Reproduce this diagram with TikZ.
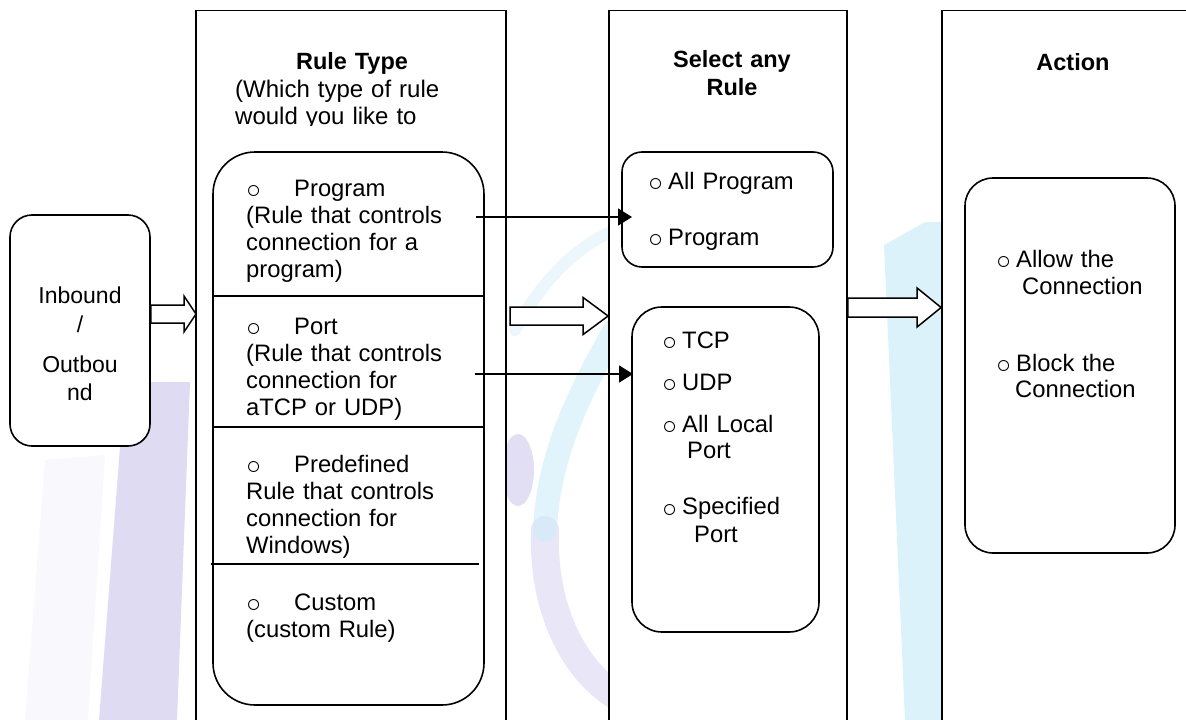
\documentclass[tikz,border=0pt]{standalone}
\usepackage{fontspec}
\setmainfont{Liberation Sans}
\usetikzlibrary{arrows.meta,calc}
\definecolor{wml}{RGB}{214,210,240}
\definecolor{wmc}{RGB}{205,236,250}
\newcommand{\bul}[1]{\makebox[#1][l]{\raisebox{-2.5pt}{\fontsize{25}{25}\selectfont ○}}}
\newcommand{\blockarr}[5]{%
  \draw[barrow] let \p1=(#1), \p2=(#2) in
    (\x1,\y1+#3) -- (\x2-#5,\y1+#3) -- (\x2-#5,\y1+#4) -- (\x2,\y1)
    -- (\x2-#5,\y1-#4) -- (\x2-#5,\y1-#3) -- (\x1,\y1-#3) -- cycle;}
\begin{document}
\begin{tikzpicture}[x=1pt,y=-1pt,
  col/.style={draw, line width=1.8pt, fill=white, inner sep=0pt},
  rbox/.style={draw, line width=1.6pt, fill=white, inner sep=0pt},
  ttl/.style={font=\bfseries\fontsize{23.5}{28}\selectfont, anchor=base, inner sep=0pt, align=center, text width=220pt},
  txa/.style={font=\fontsize{23.8}{27}\selectfont, anchor=base west, inner sep=0pt, align=left, text width=240pt},
  txb/.style={font=\fontsize{23.8}{26.5}\selectfont, anchor=base west, inner sep=0pt, align=left, text width=180pt},
  barrow/.style={draw, line width=1.5pt, fill=white, line join=miter},
  larrow/.style={line width=1.6pt, -{Triangle[length=14pt,width=17pt]}},
  divider/.style={line width=1.6pt},
  wm/.style={line cap=round},
]
\useasboundingbox (0,0) rectangle (1186,720);
\clip (0,0) rectangle (1186,720);

% faint watermark
\fill[wml, opacity=0.8] (125,382) -- (190,382) -- (177,720) -- (99,720) -- cycle;
\fill[wml, opacity=0.15] (45,460) -- (105,455) -- (88,720) -- (25,720) -- cycle;
\draw[wm, wml, line width=28pt, opacity=0.55] (545,530) .. controls (542,610) and (575,670) .. (615,695);
\draw[wm, wmc, line width=24pt, opacity=0.6] (615,330) .. controls (575,400) and (548,460) .. (545,530);
\draw[wm, wmc, line width=12pt, opacity=0.4] (515,330) .. controls (545,275) and (580,245) .. (615,230);
\fill[wml, opacity=0.7] (518,470) ellipse [x radius=16, y radius=36];
\fill[wmc, opacity=0.7] (884,245) -- (925,222) -- (942,222) -- (942,720) -- (905,720) -- cycle;

% columns
\node[col, minimum width=310pt, minimum height=730pt] (colA) at (351,375.5) {};
\node[col, minimum width=238pt, minimum height=730pt] (colB) at (728,375.5) {};
\node[col, minimum width=270pt, minimum height=730pt] (colC) at (1077,375.5) {};

% inner boxes
\node[rbox, rounded corners=22pt, minimum width=140pt, minimum height=231pt] (inb) at (80,330.5) {};
\node[rbox, rounded corners=42pt, minimum width=271pt, minimum height=553pt] (rt) at (348.5,428.5) {};
\node[rbox, rounded corners=20pt, minimum width=211pt, minimum height=115pt] (prog) at (727.5,209.5) {};
\node[rbox, rounded corners=30pt, minimum width=187pt, minimum height=325pt] (port) at (725.5,469.5) {};
\node[rbox, rounded corners=28pt, minimum width=210pt, minimum height=375pt] (act) at (1070,365.5) {};

% dividers
\draw[divider] (213,296) -- (484,296);
\draw[divider] (213,427) -- (484,427);
\draw[divider] (211,564) -- (479,564);

% titles
\node[ttl] (tA) at (352,69) {Rule Type};
\begin{scope}
  \clip (196,70) rectangle (506,125.5);
  \node[txa, font=\fontsize{24}{27}\selectfont] (tAsub) at (235,97) {(Which type of rule\\would you like to};
\end{scope}
\node[ttl] (tB) at (732,67) {Select any\\Rule};
\node[ttl] (tC) at (1073,70) {Action};

% inbound
\node[font=\fontsize{23}{27}\selectfont, anchor=base, inner sep=0pt, align=center, text width=130pt] (tin) at (80,303)
  {Inbound\\[2pt]/\\[13pt]Outbou\\[1pt]nd};

% rule type items
\node[txa] (iprg) at (246,196) {\bul{48pt}Program\\(Rule that controls\\connection for a\\program)};
\node[txa] (iprt) at (246,334) {\bul{48pt}Port\\(Rule that controls\\connection for\\aTCP or UDP)};
\node[txa] (ipre) at (246,472) {\bul{48pt}Predefined\\Rule that controls\\connection for\\Windows)};
\node[txa] (icus) at (246,610) {\bul{48pt}Custom\\(custom Rule)};

% select items
\node[txb] (iall) at (648,189) {\bul{20pt}All Program\\[29.5pt]\bul{20pt}Program};
\node[txb] (itcp) at (662,348) {\bul{20pt}TCP\\[15.5pt]\bul{20pt}UDP\\[15.5pt]\bul{20pt}All Local\\\hspace*{25pt}Port\\[29.5pt]\bul{20pt}Specified\\[1.5pt]\hspace*{32pt}Port};

% action items
\node[txb] (iact) at (996,267) {\bul{20pt}Allow the\\[0.5pt]\hspace*{26pt}Connection\\[50.5pt]\bul{20pt}Block the\\\hspace*{19pt}Connection};

% block arrows
\coordinate (a1s) at (inb.east |- 0,314);
\coordinate (a1e) at (196,314);
\coordinate (a2s) at (510,316);
\coordinate (a2e) at (colB.west |- 0,316);
\coordinate (a3s) at (colB.east |- 0,307.5);
\coordinate (a3e) at (colC.west |- 0,307.5);
\blockarr{a1s}{a1e}{9pt}{18pt}{12pt}
\blockarr{a2s}{a2e}{9pt}{18.5pt}{25pt}
\blockarr{a3s}{a3e}{9.5pt}{19.5pt}{24pt}

% line arrows
\coordinate (la1s) at (476,217);
\coordinate (la1e) at (632,217);
\coordinate (la2s) at (475,374);
\coordinate (la2e) at (633,374);
\draw[larrow] (la1s) -- (la1e);
\draw[larrow] (la2s) -- (la2e);
\end{tikzpicture}
\end{document}
